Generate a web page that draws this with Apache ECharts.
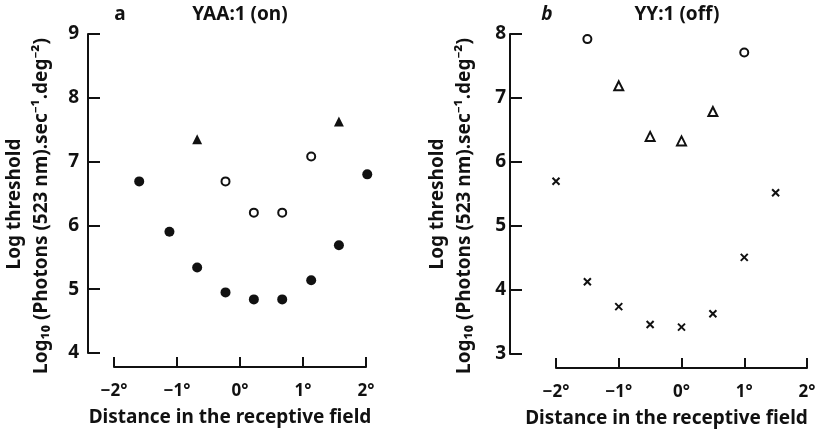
<!DOCTYPE html>
<html><head><meta charset="utf-8">
<script src="https://cdn.jsdelivr.net/npm/echarts@6/dist/echarts.min.js"></script>
<style>html,body{margin:0;padding:0;background:#fff}#c{width:823px;height:431px}</style>
</head><body><div id="c"></div>
<script>
// Panel a: YAA:1 (on)
const aFilledX = [-1.6, -1.12, -0.68, -0.23, 0.22, 0.67, 1.13, 1.57, 2.02];
const aFilledY = [6.69, 5.9, 5.34, 4.95, 4.84, 4.84, 5.14, 5.69, 6.8];
const aOpenX = [-0.23, 0.22, 0.67, 1.13];
const aOpenY = [6.69, 6.2, 6.2, 7.08];
const aTriX = [-0.68, 1.57];
const aTriY = [7.35, 7.63];
// Panel b: YY:1 (off)
const bOpenX = [-1.5, 1.0];
const bOpenY = [7.92, 7.71];
const bTriX = [-1.0, -0.5, 0, 0.5];
const bTriY = [7.19, 6.4, 6.33, 6.79];
const bCrossX = [-2, -1.5, -1, -0.5, 0, 0.5, 1, 1.5];
const bCrossY = [5.70, 4.13, 3.74, 3.46, 3.42, 3.63, 4.51, 5.52];
// Tick labels
const xTickLabels = {'-2': '\u22122\u00b0', '-1': '\u22121\u00b0', '0': '0\u00b0', '1': '1\u00b0', '2': '2\u00b0'};
const aYTicks = [4, 5, 6, 7, 8, 9];
const bYTicks = [3, 4, 5, 6, 7, 8];

const FONT = '"Noto Sans", "DejaVu Sans", sans-serif';
const INK = '#111';
const W = 'bold';
const zip = (xs, ys) => xs.map((x, i) => [x, ys[i]]);
const cross = 'path://M0,0L10,10M10,0L0,10';

function xAxis(gi, offset) {
  return {
    type: 'value', gridIndex: gi, min: -2, max: 2, interval: 1, offset: offset,
    axisLine: {show: true, onZero: false, lineStyle: {color: INK, width: 2}},
    axisTick: {show: true, inside: true, length: 10, lineStyle: {color: INK, width: 2}},
    splitLine: {show: false},
    axisLabel: {color: INK, fontFamily: FONT, fontWeight: W, fontSize: 17, margin: 16,
      formatter: v => xTickLabels[String(v)]},
    name: 'Distance in the receptive field', nameLocation: 'middle', nameGap: 41,
    nameTextStyle: {color: INK, fontFamily: FONT, fontWeight: W, fontSize: 19, padding: gi === 0 ? [0, 20, 0, 0] : [0, 30, 0, 0]}
  };
}
function yAxis(gi, ticks, offset, margin) {
  return {
    type: 'value', gridIndex: gi, min: ticks[0], max: ticks[ticks.length - 1], interval: 1, offset: offset,
    axisLine: {show: true, onZero: false, lineStyle: {color: INK, width: 2}},
    axisTick: {show: true, inside: true, length: 12, lineStyle: {color: INK, width: 2}},
    splitLine: {show: false},
    axisLabel: {color: INK, fontFamily: FONT, fontWeight: W, fontSize: 19, margin: margin}
  };
}
function yNames(xo) {
  return [
    {type: 'text', x: xo, y: 204, rotation: Math.PI / 2,
      style: {text: 'Log threshold', font: W + ' 19px ' + FONT, fill: INK, textAlign: 'center', textVerticalAlign: 'middle'}},
    {type: 'text', x: xo + 27, y: 206, rotation: Math.PI / 2,
      style: {text: 'Log\u2081\u2080 (Photons (523 nm).sec\u207b\u00b9.deg\u207b\u00b2)', font: W + ' 19px ' + FONT, fill: INK, textAlign: 'center', textVerticalAlign: 'middle'}}
  ];
}

const chart = echarts.init(document.getElementById('c'), null, {renderer: 'canvas'});
chart.setOption({
  animation: false,
  backgroundColor: '#fff',
  grid: [
    {left: 114, top: 34, width: 252, height: 319, containLabel: false, outerBoundsMode: 'none'},
    {left: 556, top: 34, width: 251, height: 320, containLabel: false, outerBoundsMode: 'none'}
  ],
  xAxis: [xAxis(0, 14), xAxis(1, 14)],
  yAxis: [yAxis(0, aYTicks, 26, 9), yAxis(1, bYTicks, 46, 4)],
  graphic: [
    {type: 'text', x: 120, y: 15, style: {text: 'a', font: 'bold 19px ' + FONT, fill: INK, textAlign: 'center', textVerticalAlign: 'middle'}},
    {type: 'text', x: 240, y: 15, style: {text: 'YAA:1 (on)', font: W + ' 19px ' + FONT, fill: INK, textAlign: 'center', textVerticalAlign: 'middle'}},
    {type: 'text', x: 547, y: 15, style: {text: 'b', font: 'italic bold 19px ' + FONT, fill: INK, textAlign: 'center', textVerticalAlign: 'middle'}},
    {type: 'text', x: 677, y: 15, style: {text: 'YY:1 (off)', font: W + ' 19px ' + FONT, fill: INK, textAlign: 'center', textVerticalAlign: 'middle'}},
    ...yNames(15), ...yNames(438)
  ],
  series: [
    {type: 'scatter', xAxisIndex: 0, yAxisIndex: 0, clip: false, symbol: 'circle', symbolSize: 10,
      itemStyle: {color: INK, opacity: 1}, data: zip(aFilledX, aFilledY)},
    {type: 'scatter', xAxisIndex: 0, yAxisIndex: 0, clip: false, symbol: 'circle', symbolSize: 8,
      itemStyle: {color: '#fff', borderColor: INK, borderWidth: 2, opacity: 1}, data: zip(aOpenX, aOpenY)},
    {type: 'scatter', xAxisIndex: 0, yAxisIndex: 0, clip: false, symbol: 'triangle', symbolSize: 10,
      itemStyle: {color: INK, opacity: 1}, data: zip(aTriX, aTriY)},
    {type: 'scatter', xAxisIndex: 1, yAxisIndex: 1, clip: false, symbol: 'circle', symbolSize: 8,
      itemStyle: {color: '#fff', borderColor: INK, borderWidth: 2, opacity: 1}, data: zip(bOpenX, bOpenY)},
    {type: 'scatter', xAxisIndex: 1, yAxisIndex: 1, clip: false, symbol: 'triangle', symbolSize: 9,
      itemStyle: {color: '#fff', borderColor: INK, borderWidth: 2, opacity: 1}, data: zip(bTriX, bTriY)},
    {type: 'scatter', xAxisIndex: 1, yAxisIndex: 1, clip: false, symbol: cross, symbolSize: 7,
      itemStyle: {color: 'none', borderColor: INK, borderWidth: 2, opacity: 1}, data: zip(bCrossX, bCrossY)}
  ]
});
</script></body></html>
